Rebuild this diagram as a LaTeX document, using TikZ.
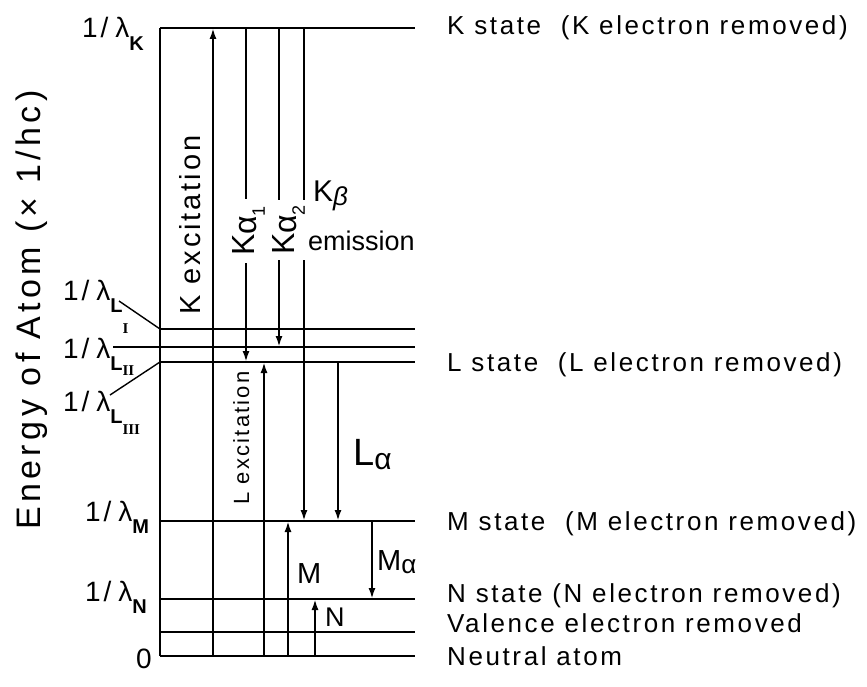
\documentclass[tikz,border=0pt]{standalone}
\usepackage{fontspec}
\setmainfont{Liberation Sans}
\newfontfamily\statefont{Liberation Sans}[LetterSpace=10]
\newfontfamily\axisfont{Liberation Sans}[LetterSpace=13]
\newfontfamily\romfont{Liberation Serif}
\usetikzlibrary{arrows.meta}

\newcommand{\invlam}[1]{1/\kern7pt λ\raisebox{-0.85ex}{\fontsize{20}{20}\selectfont\bfseries #1}}
\newcommand{\romsub}[2][-0.5ex]{\raisebox{#1}{\romfont\bfseries\fontsize{15}{15}\selectfont #2}}

\tikzset{
  level/.style={line width=2.6pt},
  lead/.style={line width=1.4pt},
  trans/.style={line width=2.1pt, -{Latex[length=11pt,width=7pt]}},
  state/.style={anchor=base west, inner sep=0pt, font=\statefont\fontsize{26}{30}\selectfont},
  energy/.style={anchor=base west, inner sep=0pt, font=\statefont\fontsize{28}{32}\selectfont},
  tlabel/.style={inner sep=0pt, font=\fontsize{29}{32}\selectfont},
}

\begin{document}
\begin{tikzpicture}[x=1pt, y=-1pt]
  \useasboundingbox (0,0) rectangle (867,687);
  % energy levels
  \coordinate (R) at (415,0);
  \foreach \n/\y in {K/28, LI/329, LIII/362, M/521, N/599, V/632, O/656}
    \coordinate (\n) at (160,\y);
  \coordinate (LII) at (113,347);
  \foreach \n in {K,LI,LII,LIII,M,N,V,O}
    \draw[level] (\n) -- (R |- \n);
  \draw[level] (K) -- (O);
  \coordinate (LIend) at (119,301);
  \coordinate (LIIIend) at (110,395);
  \draw[lead] (LI) -- (LIend);
  \draw[lead] (LIII) -- (LIIIend);
  % transitions
  \foreach \n/\x in {kex/213, ka1/246, lex/264, ka2/279, mex/288, kb/304,
                     nex/315, la/338, ma/372}
    \coordinate (\n) at (\x,0);
  \draw[trans] (kex |- O) -- (kex |- K);
  \draw[trans] (ka1 |- K) -- (ka1 |- LIII);
  \draw[trans] (ka2 |- K) -- (ka2 |- LII);
  \draw[trans] (kb |- K) -- (kb |- M);
  \draw[trans] (lex |- O) -- (lex |- LIII);
  \draw[trans] (la |- LIII) -- (la |- M);
  \draw[trans] (mex |- O) -- (mex |- M);
  \draw[trans] (ma |- M) -- (ma |- N);
  \draw[trans] (nex |- O) -- (nex |- N);
  % transition labels
  \node[tlabel, rotate=90, anchor=base, font=\statefont\fontsize{29}{32}\selectfont]
    (kexlab) at (200,225) {K excitation};
  \node[tlabel, rotate=90, anchor=base, fill=white, inner xsep=7pt, font=\fontsize{32}{34}\selectfont]
    (ka1lab) at (254,231) {K\raisebox{-0.15ex}{α\raisebox{-0.5ex}{\fontsize{18}{18}\selectfont 1}}};
  \node[tlabel, rotate=90, anchor=base, fill=white, inner xsep=5pt, font=\fontsize{32}{34}\selectfont]
    (ka2lab) at (294,230) {K\raisebox{-0.15ex}{α\raisebox{-0.5ex}{\fontsize{18}{18}\selectfont 2}}};
  \node[tlabel, anchor=base west, font=\fontsize{30}{32}\selectfont] (kblab) at (313,201)
    {K\raisebox{-0.3ex}{\fontsize{26}{26}\selectfont\itshape β}};
  \node[tlabel, anchor=base west, font=\fontsize{27}{30}\selectfont] (emlab) at (308,250) {emission};
  \node[tlabel, rotate=90, anchor=base, font=\statefont\fontsize{22}{24}\selectfont]
    (lexlab) at (249,438) {L excitation};
  \node[tlabel, anchor=base west, font=\fontsize{38}{40}\selectfont] (lalab) at (353,465)
    {L\raisebox{-0.2ex}{\fontsize{30}{30}\selectfont α}};
  \node[tlabel, anchor=base west] (mexlab) at (297,583) {M};
  \node[tlabel, anchor=base west] (malab) at (377,570)
    {M\raisebox{-0.2ex}{\fontsize{26}{26}\selectfont α}};
  \node[tlabel, anchor=base west, font=\fontsize{27}{30}\selectfont] (nexlab) at (325,626) {N};
  % level values
  \node[energy] (vK) at (82,38) {\invlam{K}};
  \node[energy] (vLI) at (63,300) {\invlam{L\romsub[-2ex]{I}}};
  \node[energy] (vLII) at (63,358) {\invlam{L\romsub{II}}};
  \node[energy] (vLIII) at (63,411) {\invlam{L\romsub[-1ex]{III}}};
  \node[energy] (vM) at (85,521) {\invlam{M}};
  \node[energy] (vN) at (85,601) {\invlam{N}};
  \node[energy] (vO) at (136,668) {0};
  % states
  \node[state] (sK) at (447,35) {K state~~(K electron removed)};
  \node[state] (sL) at (447,371) {L state~~(L electron removed)};
  \node[state] (sM) at (447,530) {M state~~(M electron removed)};
  \node[state] (sN) at (447,602) {N state~(N electron removed)};
  \node[state] (sV) at (447,632) {Valence electron removed};
  \node[state] (sO) at (447,665) {Neutral atom};
  % axis
  \node[rotate=90, anchor=base, inner sep=0pt, font=\axisfont\fontsize{34}{36}\selectfont]
    (axis) at (40,310) {Energy of Atom (× 1/hc)};
\end{tikzpicture}
\end{document}
